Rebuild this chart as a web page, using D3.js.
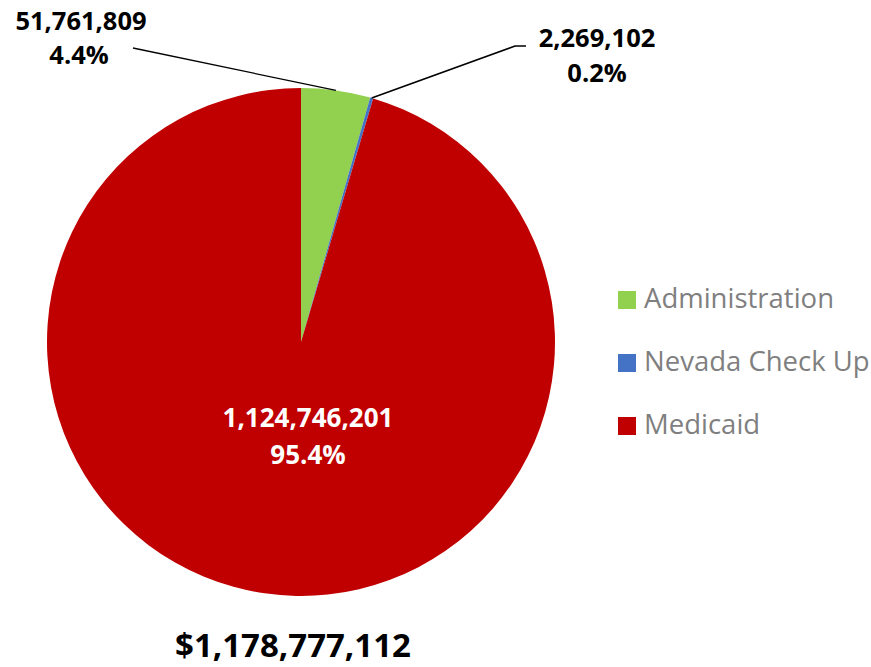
<!DOCTYPE html>
<html>
<head>
<meta charset="utf-8">
<script src="https://cdn.jsdelivr.net/npm/d3@7"></script>
<style>
  body { margin: 0; background: #fff; }
  text { font-family: "Open Sans", Calibri, sans-serif; }
</style>
</head>
<body>
<svg id="chart" width="871" height="667"></svg>
<script>
const categories = ["Administration", "Nevada Check Up", "Medicaid"];
const values = [51761809, 2269102, 1124746201];
const percentLabels = ["4.4%", "0.2%", "95.4%"];
const totalLabel = "$1,178,777,112";
const colors = ["#92d050", "#4472c4", "#c00000"];

const width = 871, height = 667;
const cx = 301, cy = 342, radius = 254;

const svg = d3.select("#chart");
const fmt = d3.format(",");

const pie = d3.pie().sort(null).value(d => d.value);
const arcs = pie(categories.map((c, i) => ({ name: c, value: values[i], pct: percentLabels[i], color: colors[i] })));
const arc = d3.arc().innerRadius(0).outerRadius(radius);

const g = svg.append("g").attr("transform", `translate(${cx},${cy})`);

g.selectAll("path.slice")
    .data(arcs)
    .enter().append("path")
    .attr("class", "slice")
    .attr("fill", d => d.data.color)
    .attr("d", arc);

// point on the rim at the middle of a slice
function rimPoint(d) {
    const a = (d.startAngle + d.endAngle) / 2;
    return [radius * Math.sin(a), -radius * Math.cos(a)];
}

// Administration label (outside, upper left)
const adm = arcs[0];
const pAdm = rimPoint(adm);
g.append("line")
    .attr("x1", pAdm[0]).attr("y1", pAdm[1])
    .attr("x2", 133 - cx).attr("y2", 48 - cy)
    .attr("stroke", "#000").attr("stroke-width", 1.3);
const admLbl = svg.append("text")
    .attr("text-anchor", "middle")
    .attr("font-weight", "bold").attr("font-size", 25.5).attr("fill", "#000");
admLbl.append("tspan").attr("x", 81).attr("y", 30).text(fmt(adm.data.value));
admLbl.append("tspan").attr("x", 79).attr("y", 64).text(adm.data.pct);

// Nevada Check Up label (outside, upper right)
const nv = arcs[1];
const pNv = rimPoint(nv);
g.append("polyline")
    .attr("points", [[pNv[0], pNv[1]], [515 - cx, 46 - cy], [526 - cx, 46 - cy]].map(p => p.join(",")).join(" "))
    .attr("fill", "none")
    .attr("stroke", "#000").attr("stroke-width", 1.6);
const nvLbl = svg.append("text")
    .attr("text-anchor", "middle")
    .attr("font-weight", "bold").attr("font-size", 25.5).attr("fill", "#000");
nvLbl.append("tspan").attr("x", 597).attr("y", 47).text(fmt(nv.data.value));
nvLbl.append("tspan").attr("x", 597).attr("y", 82).text(nv.data.pct);

// Medicaid label (inside)
const med = arcs[2];
const medLbl = svg.append("text")
    .attr("text-anchor", "middle")
    .attr("font-weight", "bold").attr("font-size", 26).attr("fill", "#fff");
medLbl.append("tspan").attr("x", 308).attr("y", 427).text(fmt(med.data.value));
medLbl.append("tspan").attr("x", 308).attr("y", 464).text(med.data.pct);

// total below the pie
svg.append("text")
    .attr("x", 293).attr("y", 657)
    .attr("text-anchor", "middle")
    .attr("font-weight", "bold").attr("font-size", 33).attr("fill", "#000")
    .text(totalLabel);

// legend
const legend = svg.append("g").attr("transform", "translate(618,291)");
const rows = legend.selectAll("g.row")
    .data(arcs)
    .enter().append("g")
    .attr("class", "row")
    .attr("transform", (d, i) => `translate(0,${i * 63})`);
rows.append("rect")
    .attr("width", 18).attr("height", 18)
    .attr("fill", d => d.data.color);
rows.append("text")
    .attr("x", 26).attr("y", 17)
    .attr("font-size", 27.5).attr("fill", "#7f7f7f")
    .text(d => d.data.name);
</script>
</body>
</html>
